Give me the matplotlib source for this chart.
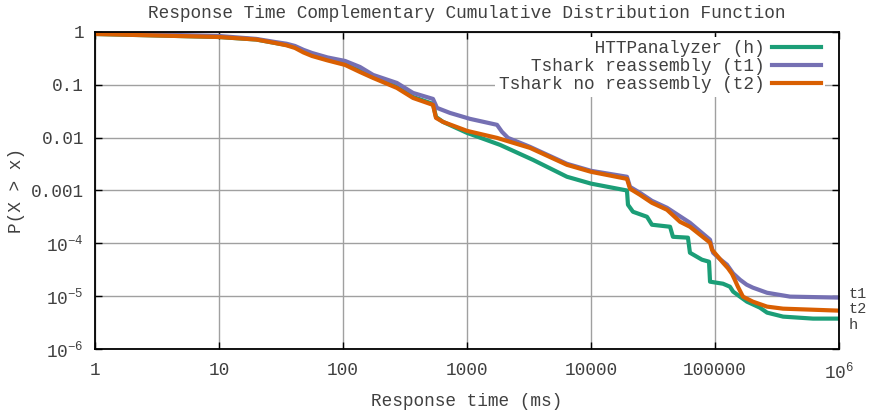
import matplotlib.pyplot as plt
from matplotlib.ticker import FixedLocator, FixedFormatter, NullLocator

plt.rcParams['font.family'] = ['Liberation Mono', 'DejaVu Sans Mono']
plt.rcParams['mathtext.fontset'] = 'custom'
plt.rcParams['mathtext.rm'] = 'Liberation Mono'
plt.rcParams['mathtext.default'] = 'rm'

# Datos (tiempo en ms, P(X > x))
h_x = [1, 10, 20, 28.3, 35, 41, 48, 56.2, 75, 104, 137, 175, 272, 367, 532,
       562, 640, 1000, 1846, 3406, 6400, 10000, 19500, 19870, 21800, 28300,
       31000, 43400, 45800, 60500, 62800, 78500, 89500, 91200, 116000,
       132000, 140000, 159000, 181000, 230000, 263000, 354000, 617000, 1e6]
h_y = [0.917, 0.804, 0.72, 0.62, 0.57, 0.52, 0.43, 0.367, 0.30, 0.248, 0.183,
       0.141, 0.0912, 0.059, 0.0435, 0.0247, 0.0199, 0.01233, 0.00731,
       0.0038, 0.00182, 0.00135, 0.001, 0.000537, 0.000396, 0.000318,
       0.000225, 0.000206, 0.000133, 0.000128, 6.64e-5, 4.9e-5, 4.49e-5,
       1.88e-5, 1.72e-5, 1.51e-5, 1.22e-5, 9.8e-6, 7.87e-6, 6.07e-6, 4.88e-6,
       4.1e-6, 3.76e-6, 3.76e-6]

t1_x = [1, 10, 20, 28.3, 35, 41, 48, 56.2, 75, 104, 137, 175, 272, 367, 532,
        573, 729, 1057, 1746, 1915, 2141, 3221, 6400, 10000, 19500, 20640,
        24800, 31000, 41000, 62800, 91200, 96400, 110000, 125000, 140000,
        159000, 180000, 202000, 263000, 403000, 1e6]
t1_y = [0.957, 0.84, 0.74, 0.647, 0.60, 0.544, 0.46, 0.401, 0.33, 0.283,
        0.218, 0.154, 0.1086, 0.0703, 0.0541, 0.0366, 0.0294, 0.0227, 0.0175,
        0.0129, 0.0099, 0.0067, 0.0032, 0.00236, 0.00182, 0.00117, 0.000905,
        0.000638, 0.000471, 0.000245, 0.000117, 6.64e-5, 5.0e-5, 3.94e-5,
        2.7e-5, 2.05e-5, 1.65e-5, 1.45e-5, 1.16e-5, 9.8e-6, 9.4e-6]

t2_x = [1, 10, 20, 28.3, 35, 41, 48, 56.2, 75, 104, 137, 175, 272, 367, 532,
        562, 640, 1000, 1746, 3221, 6400, 10000, 19500, 20640, 24800, 31000,
        41000, 52200, 62800, 91200, 94600, 116000, 127000, 137000, 145000,
        153000, 168000, 202000, 263000, 354000, 1e6]
t2_y = [0.917, 0.804, 0.72, 0.62, 0.56, 0.499, 0.41, 0.352, 0.29, 0.238,
        0.175, 0.135, 0.0874, 0.0565, 0.0417, 0.0237, 0.0199, 0.01345, 0.0099,
        0.00641, 0.00306, 0.00226, 0.00166, 0.00108, 0.00083, 0.000585,
        0.000432, 0.000256, 0.000206, 0.000103, 7.57e-5, 4.3e-5, 3.4e-5,
        2.65e-5, 2.0e-5, 1.51e-5, 9.8e-6, 7.87e-6, 6.34e-6, 5.8e-6, 5.32e-6]

x_ticks = [1, 10, 100, 1000, 10000, 100000, 1e6]
x_labels = ['1', '10', '100', '1000', '10000', '100000', '$10^6$']
y_ticks = [1, 0.1, 0.01, 0.001, 1e-4, 1e-5, 1e-6]
y_labels = ['1', '0.1', '0.01', '0.001', '$10^{-4}$', '$10^{-5}$', '$10^{-6}$']

txt = '#404040'
fs = 12.8

fig = plt.figure(figsize=(8.70, 4.11), dpi=100)
ax = fig.add_axes([95 / 870, 1 - 349 / 411, 744 / 870, 317 / 411])

# Orden de dibujo: h, t1, t2 (t2 queda encima)
ax.plot(h_x, h_y, color='#1b9e77', lw=3, label='HTTPanalyzer (h)'.rjust(25))
ax.plot(t1_x, t1_y, color='#7570b3', lw=3, label='Tshark reassembly (t1)'.rjust(25))
ax.plot(t2_x, t2_y, color='#d95f02', lw=3, label='Tshark no reassembly (t2)')

ax.set_xscale('log')
ax.set_yscale('log')
ax.set_xlim(1, 1e6)
ax.set_ylim(1e-6, 1)

ax.xaxis.set_major_locator(FixedLocator(x_ticks))
ax.xaxis.set_major_formatter(FixedFormatter(x_labels))
ax.xaxis.set_minor_locator(NullLocator())
ax.yaxis.set_major_locator(FixedLocator(y_ticks))
ax.yaxis.set_major_formatter(FixedFormatter(y_labels))
ax.yaxis.set_minor_locator(NullLocator())

ax.tick_params(which='both', direction='in', top=True, right=True,
               length=5, width=1, labelsize=fs, labelcolor=txt)
ax.tick_params(axis='x', pad=9)
ax.tick_params(axis='y', pad=8)
ax.grid(True, color='#a0a0a0', lw=1)
ax.set_axisbelow(True)
for s in ax.spines.values():
    s.set_linewidth(1.3)

ax.set_title('Response Time Complementary Cumulative Distribution Function',
             fontsize=fs, color=txt, pad=10)
ax.set_xlabel('Response time (ms)', fontsize=fs, color=txt, labelpad=8)
ax.set_ylabel('P(X > x)', fontsize=fs, color=txt, labelpad=4)

leg = ax.legend(loc='upper right', bbox_to_anchor=(0.981, 0.985),
                borderaxespad=0, markerfirst=False, fontsize=fs,
                frameon=True, fancybox=False, handlelength=2.76,
                handletextpad=0.45, labelspacing=0.06, borderpad=0.2)
leg.get_frame().set_edgecolor('none')
leg.get_frame().set_facecolor('white')
leg.get_frame().set_alpha(1)
leg.set_zorder(2)
for t in leg.get_texts():
    t.set_color(txt)

# Etiquetas al final de cada curva
for lab, yv in [('t1', 1.1e-5), ('t2', 5.8e-6), ('h', 2.9e-6)]:
    ax.text(1.013, yv, lab, transform=ax.get_yaxis_transform(),
            fontsize=11, color=txt, va='center', ha='left')

fig.savefig('out.png', dpi=100)
